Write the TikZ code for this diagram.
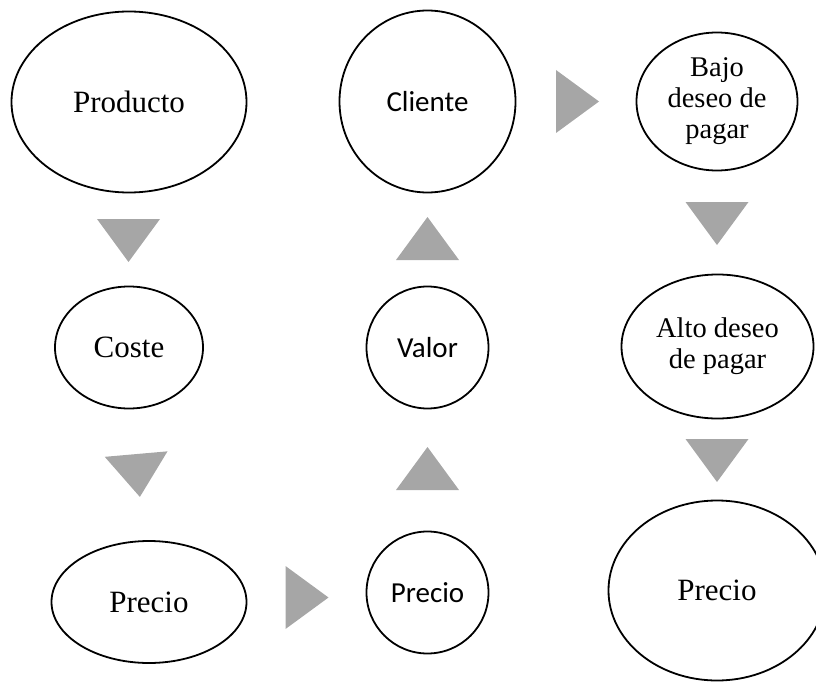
\documentclass[tikz,border=0pt]{standalone}
\usepackage{fontspec}
\setmainfont{Liberation Serif}
\newfontfamily\calibri{Carlito}
\usetikzlibrary{shapes.geometric}
\definecolor{trigray}{RGB}{166,166,166}
\tikzset{
  bubble/.style={ellipse, draw=black, line width=1.8pt, inner sep=0pt, fill=white},
  serifone/.style={font=\fontsize{31}{31}\selectfont},
  seriftwo/.style={font=\fontsize{28.5}{31}\selectfont, align=center},
  sansone/.style={font=\calibri\fontsize{29}{29}\selectfont},
  arrowtri/.pic={\fill[trigray] (-31.5,-21.5) -- (31.5,-21.5) -- (0,21.5) -- cycle;}
}
\begin{document}
\begin{tikzpicture}[x=1pt,y=-1pt]
\useasboundingbox (0,0) rectangle (816,682);
\clip (0,0) rectangle (816,682);
% column 1
\node[bubble, serifone, minimum width=235pt, minimum height=181pt] (producto) at (129,102) {Producto};
\node[bubble, serifone, minimum width=148pt, minimum height=122pt] (coste) at (129,347.5) {Coste};
\node[bubble, serifone, minimum width=195pt, minimum height=122pt] (precioA) at (149,602) {Precio};
% column 2
\node[bubble, sansone, minimum width=176pt, minimum height=182pt] (cliente) at (427.5,101.5) {Cliente};
\node[bubble, sansone, minimum width=122pt, minimum height=122pt] (valor) at (427.5,347.5) {Valor};
\node[bubble, sansone, minimum width=122pt, minimum height=122pt] (precioB) at (427.5,592.5) {Precio};
% column 3
\node[bubble, seriftwo, minimum width=161pt, minimum height=138pt] (bajo) at (717,101.5) {Bajo\\deseo de\\pagar};
\node[bubble, seriftwo, minimum width=192pt, minimum height=144pt] (alto) at (717.5,346.5) {Alto deseo\\de pagar};
\node[bubble, serifone, minimum width=217pt, minimum height=180pt] (precioC) at (717,590.5) {\raisebox{-5pt}{Precio}};
% triangle arrows
\pic at (128.5,240.5) {arrowtri};
\pic[rotate=5] at (138,475.5) {arrowtri};
\pic[rotate=180] at (427.5,238.5) {arrowtri};
\pic[rotate=180] at (427.5,468.5) {arrowtri};
\pic[rotate=90] at (577.5,101.5) {arrowtri};
\pic[rotate=90] at (307,597.5) {arrowtri};
\pic at (717,223.5) {arrowtri};
\pic at (717,460.5) {arrowtri};
\end{tikzpicture}
\end{document}
